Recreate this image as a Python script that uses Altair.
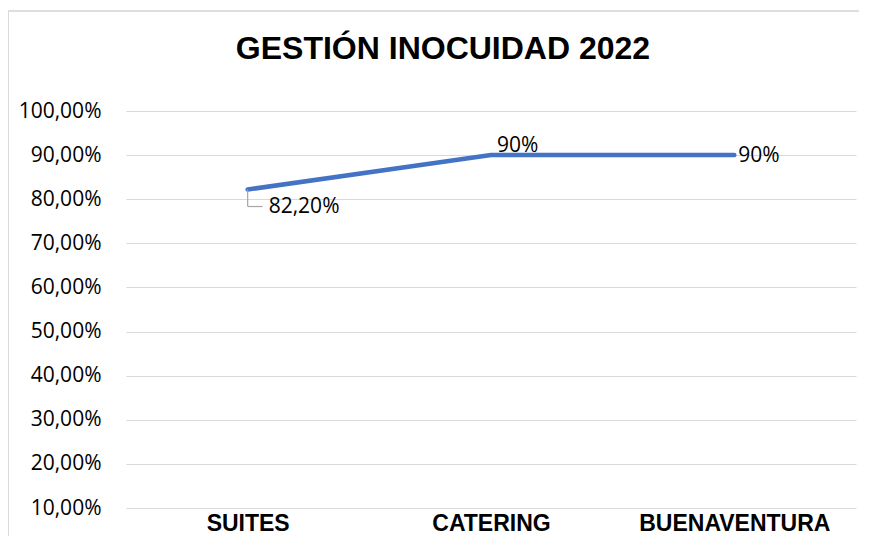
import altair as alt
import pandas as pd

categories = ["SUITES", "CATERING", "BUENAVENTURA"]
values = [0.822, 0.90, 0.90]
value_labels = ["82,20%", "90%", "90%"]
y_ticks = [0.1, 0.2, 0.3, 0.4, 0.5, 0.6, 0.7, 0.8, 0.9, 1.0]

df = pd.DataFrame({"cat": categories, "val": values, "lbl": value_labels})

x_enc = alt.X("cat:N", sort=categories, scale=alt.Scale(type="point", padding=0.5),
              axis=alt.Axis(title=None, labelAngle=0, domain=False, ticks=False,
                            labelFont="Liberation Sans", labelFontWeight="bold",
                            labelFontSize=23, labelColor="#000000", labelPadding=4,
                            labelLimit=400))
y_enc = alt.Y("val:Q", scale=alt.Scale(domain=[0.1, 1.0], nice=False, zero=False),
              axis=alt.Axis(title=None, values=y_ticks, domain=False, ticks=False,
                            labelExpr="replace(format(datum.value, '.2%'), '.', ',')",
                            labelFont="Open Sans", labelFontSize=21, labelColor="#000000",
                            labelPadding=25, gridColor="#d9d9d9", gridWidth=1.2))

base = alt.Chart(df)

line = base.mark_line(color="#4472C4", strokeWidth=4.5, strokeCap="round").encode(x=x_enc, y=y_enc)

lead_v = base.transform_filter(alt.datum.cat == "SUITES").mark_rule(
    color="#a6a6a6", strokeWidth=1.2, y2Offset=17).encode(
    x=alt.X("cat:N", sort=categories), y="val:Q", y2="val:Q")
lead_h = base.transform_filter(alt.datum.cat == "SUITES").mark_rule(
    color="#a6a6a6", strokeWidth=1.2, yOffset=17, x2Offset=15).encode(
    x=alt.X("cat:N", sort=categories), x2="cat:N", y="val:Q")

txt_font = dict(font="Open Sans", fontSize=21, color="#000000")
t1 = base.transform_filter(alt.datum.cat == "SUITES").mark_text(
    align="left", baseline="middle", dx=21, dy=17, **txt_font).encode(
    x=alt.X("cat:N", sort=categories), y="val:Q", text="lbl:N")
t2 = base.transform_filter(alt.datum.cat == "CATERING").mark_text(
    align="left", baseline="bottom", dx=6, dy=1, **txt_font).encode(
    x=alt.X("cat:N", sort=categories), y="val:Q", text="lbl:N")
t3 = base.transform_filter(alt.datum.cat == "BUENAVENTURA").mark_text(
    align="left", baseline="middle", dx=4, dy=1, **txt_font).encode(
    x=alt.X("cat:N", sort=categories), y="val:Q", text="lbl:N")

border_top = alt.Chart(df).mark_rule(color="#d9d9d9", strokeWidth=1.2, clip=False).encode(
    x=alt.value(-118), x2=alt.value(760), y=alt.value(-100))
border_left = alt.Chart(df).mark_rule(color="#d9d9d9", strokeWidth=1.2, clip=False).encode(
    x=alt.value(-118), y=alt.value(-100), y2=alt.value(450))

chart = alt.layer(border_top, border_left, line, lead_v, lead_h, t1, t2, t3).properties(
    width=730, height=397,
    background="#ffffff",
    title=alt.TitleParams("GESTIÓN INOCUIDAD 2022", font="Liberation Sans", fontSize=32,
                          fontWeight="bold", color="#000000", anchor="middle", dx=-48,
                          frame="group", baseline="alphabetic", offset=-81),
    autosize=alt.AutoSizeParams(type="none"),
    padding={"left": 118, "top": 103, "right": 3, "bottom": 28},
).configure_view(stroke="transparent", strokeWidth=0)

chart.save("out.html", embed_options={"renderer": "svg", "actions": False})
